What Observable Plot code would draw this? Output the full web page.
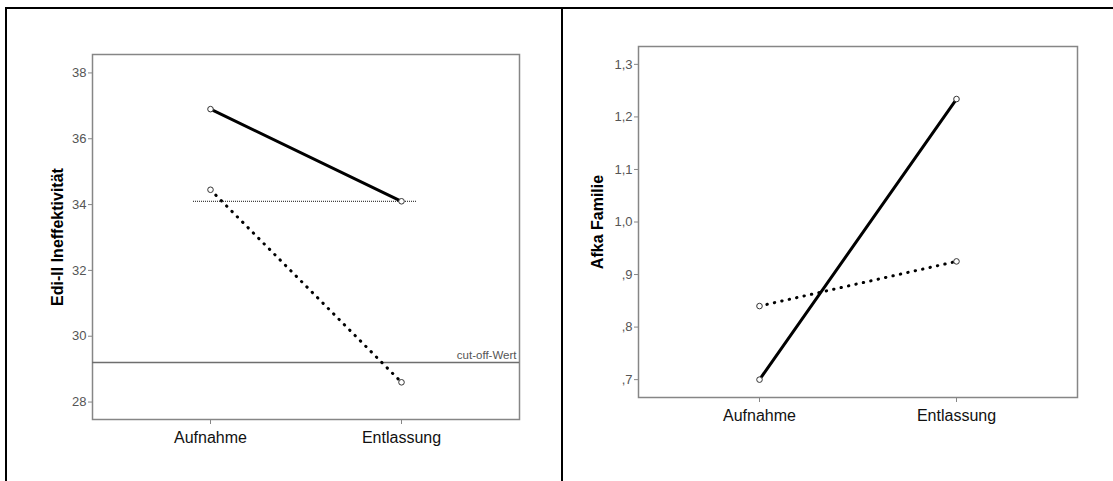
<!DOCTYPE html>
<html>
<head>
<meta charset="utf-8">
<script src="https://cdn.jsdelivr.net/npm/d3@7"></script>
<script src="https://cdn.jsdelivr.net/npm/@observablehq/plot@0.6"></script>
<style>
  html, body { margin: 0; padding: 0; background: #fff; }
  #rahmen {
    position: absolute; left: 5px; top: 7px;
    width: 1108px; height: 474px; box-sizing: border-box;
    border-top: 2px solid #000; border-left: 2px solid #000;
    display: flex;
  }
  #links { width: 554px; height: 472px; border-right: 2px solid #000; }
  #rechts { width: 550px; height: 472px; }
  svg { display: block; }
</style>
</head>
<body>
<div id="rahmen">
  <div id="links"></div>
  <div id="rechts"></div>
</div>
<script>
// Messzeitpunkte
const zeitpunkte = ["Aufnahme", "Entlassung"];

// EDI-II Ineffektivität (Mittelwerte je Gruppe)
const ediGruppeA = [36.9, 34.1];   // durchgezogene Linie
const ediGruppeB = [34.45, 28.6];  // gepunktete Linie
const ediNorm = [34.1];
const ediCutOff = [29.2];
const ediTicks = [28, 30, 32, 34, 36, 38];

// AFKA Familie (Mittelwerte je Gruppe)
const afkaGruppeA = [0.70, 1.234];
const afkaGruppeB = [0.84, 0.925];
const afkaTicks = [0.7, 0.8, 0.9, 1.0, 1.1, 1.2, 1.3];
const afkaTickLabels = [",7", ",8", ",9", "1,0", "1,1", "1,2", "1,3"];

const schrift = "'Liberation Sans', Arial, Helvetica, sans-serif";
const zeilen = (werte) => zeitpunkte.map((zeit, i) => ({zeit, wert: werte[i]}));

function diagramm({width, marginLeft, marginRight, marginTop, marginBottom,
                   domain, ticks, tickFormat, titel, titelDx, gruppeA, gruppeB, zusatz = []}) {
  return Plot.plot({
    width, height: 472, marginLeft, marginRight, marginTop, marginBottom,
    style: {fontFamily: schrift, fontSize: "13px", background: "#fff", color: "#000"},
    x: {type: "point", domain: zeitpunkte, padding: 0.614, label: null, axis: null},
    y: {domain, label: null, axis: null},
    marks: [
      Plot.frame({stroke: "#868686", strokeWidth: 1.5}),
      Plot.axisY({ticks, tickFormat, tickSize: 4, tickPadding: 2, stroke: "#868686",
                  fill: "#555", fontSize: 13, label: null}),
      Plot.axisX({tickSize: 5, tickPadding: 7, stroke: "#868686", fill: "#111",
                  fontSize: 16, label: null}),
      ...zusatz,
      Plot.line(zeilen(gruppeA), {x: "zeit", y: "wert", stroke: "#000", strokeWidth: 3}),
      Plot.line(zeilen(gruppeB), {x: "zeit", y: "wert", stroke: "#000", strokeWidth: 3,
                                  strokeLinecap: "round", strokeDasharray: "0.4,7.2"}),
      Plot.dot([...zeilen(gruppeA), ...zeilen(gruppeB)],
               {x: "zeit", y: "wert", r: 2.8, stroke: "#333", strokeWidth: 1, fill: "#fff"}),
      Plot.text([titel], {frameAnchor: "left", dx: titelDx, rotate: -90, fontSize: 16,
                          fontWeight: "bold", fill: "#000", textAnchor: "middle"})
    ]
  });
}

// linkes Diagramm: EDI-II mit Normwert und Cut-off
document.getElementById("links").append(diagramm({
  width: 554, marginLeft: 85, marginRight: 42, marginTop: 45, marginBottom: 62,
  domain: [27.47, 38.56], ticks: ediTicks, tickFormat: d => String(d),
  titel: "Edi-II Ineffektivität", titelDx: -35,
  gruppeA: ediGruppeA, gruppeB: ediGruppeB,
  zusatz: [
    Plot.ruleY(ediCutOff, {stroke: "#6e6e6e", strokeWidth: 1.5}),
    Plot.text(ediCutOff, {y: d => d, text: () => "cut-off-Wert", frameAnchor: "right",
                          textAnchor: "end", lineAnchor: "bottom", dx: -3, dy: -4,
                          fontSize: 11.5, fill: "#555"}),
    Plot.ruleY(ediNorm, {x1: () => zeitpunkte[0], x2: () => zeitpunkte[1],
                         insetLeft: -17, insetRight: -16,
                         stroke: "#111", strokeWidth: 1, strokeDasharray: "1,1"})
  ]
}));

// rechtes Diagramm: AFKA Familie
document.getElementById("rechts").append(diagramm({
  width: 550, marginLeft: 75, marginRight: 36, marginTop: 37, marginBottom: 84,
  domain: [0.666, 1.334], ticks: afkaTicks,
  tickFormat: d => afkaTickLabels[afkaTicks.findIndex(t => Math.abs(t - d) < 1e-9)],
  titel: "Afka Familie", titelDx: -41,
  gruppeA: afkaGruppeA, gruppeB: afkaGruppeB
}));
</script>
</body>
</html>
